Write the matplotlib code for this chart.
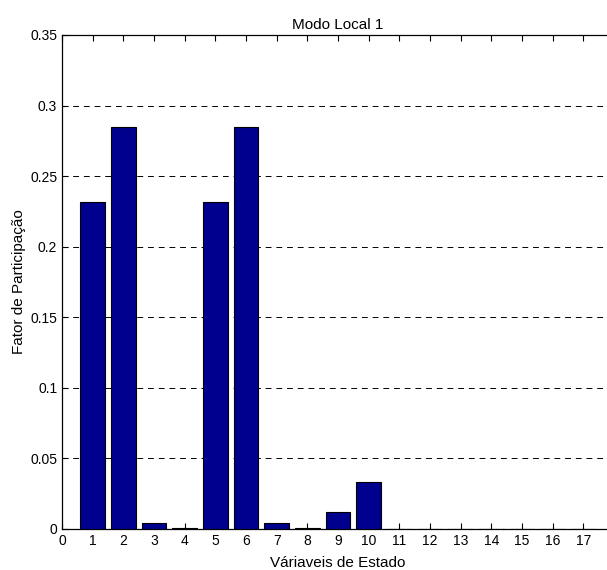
import numpy as np
import matplotlib.pyplot as plt

plt.rcParams['font.family'] = ['Liberation Sans', 'DejaVu Sans']

# fator de participacao de cada variavel de estado
variaveis = list(range(1, 18))
fator = [0.232, 0.285, 0.0045, 0.0004, 0.232, 0.285, 0.0045, 0.0004,
         0.0123, 0.0335, 0.0003, 0.0003, 0.0003, 0.0003, 0.0003, 0.0003, 0.0]

yticks = [0, 0.05, 0.1, 0.15, 0.2, 0.25, 0.3, 0.35]
ytick_labels = ['0', '0.05', '0.1', '0.15', '0.2', '0.25', '0.3', '0.35']

fig = plt.figure(figsize=(6.07, 5.70), dpi=100)
# eixo estendido um pouco alem da borda direita
ax = fig.add_axes([62 / 607, 41 / 570, 552 / 607, 494 / 570])

ax.bar(variaveis, fator, width=0.8, color='#00008F', edgecolor='black', linewidth=0.8, zorder=3)

ax.set_xlim(0, 18)
ax.set_ylim(0, 0.35)
ax.set_xticks(range(0, 18))
ax.set_yticks(yticks)
ax.set_yticklabels(ytick_labels)
ax.tick_params(direction='in', length=4, labelsize=10, top=True, right=True, width=0.8)

ax.yaxis.grid(True, linestyle=(0, (6, 5)), color='black', linewidth=0.7)
ax.set_axisbelow(True)
for s in ax.spines.values():
    s.set_linewidth(0.9)

ax.set_title('Modo Local 1', fontsize=11, pad=4)
ax.set_xlabel('Váriaveis de Estado', fontsize=11, labelpad=6)
ax.set_ylabel('Fator de Participação', fontsize=11, labelpad=3)

plt.savefig('out.png', dpi=100)
